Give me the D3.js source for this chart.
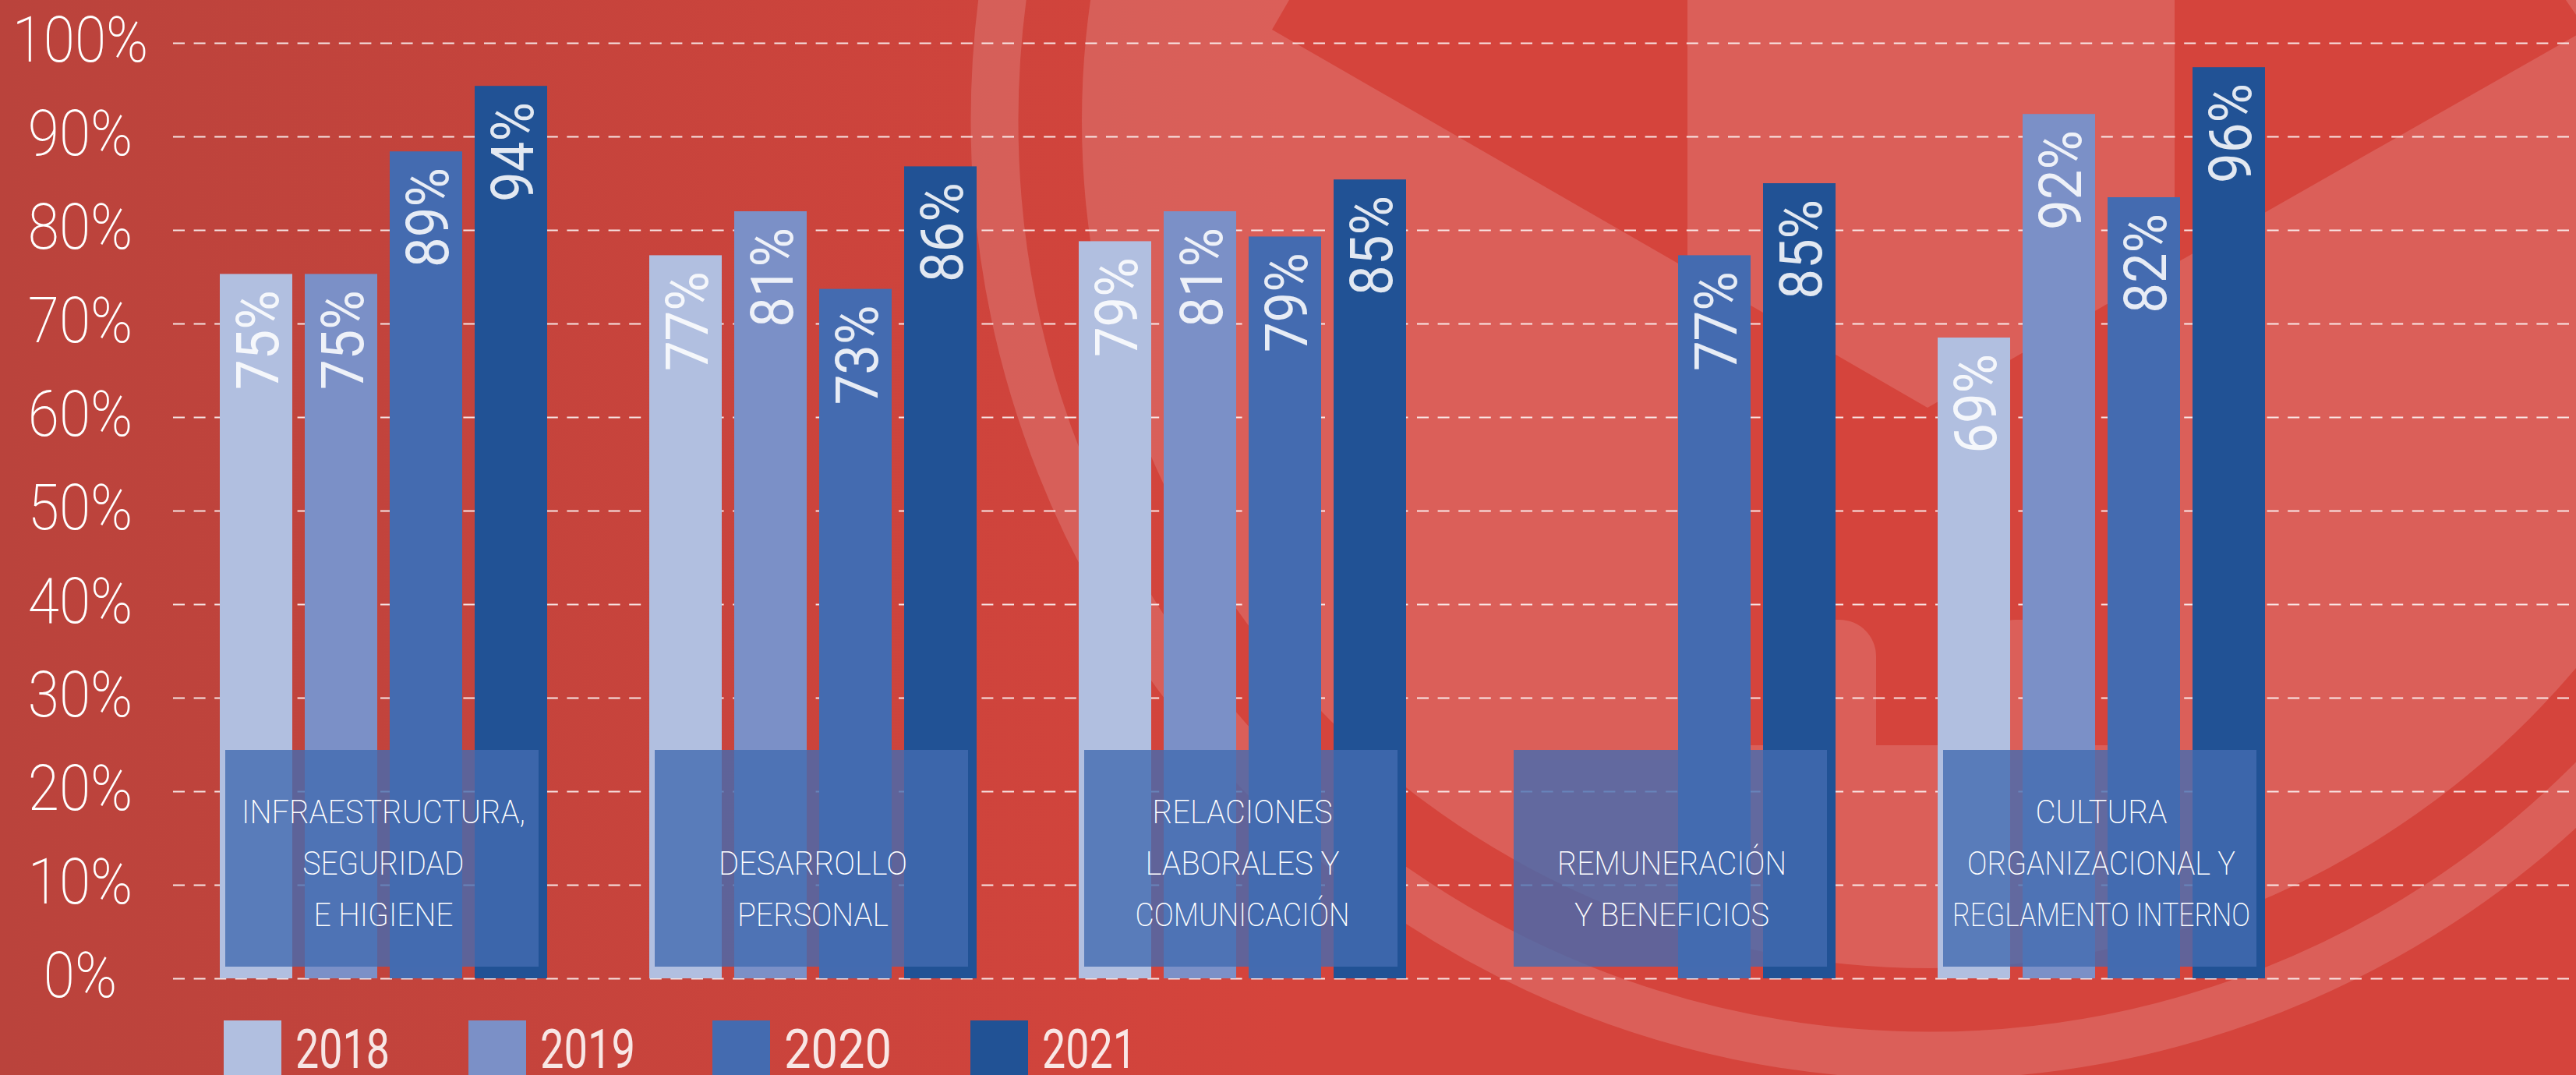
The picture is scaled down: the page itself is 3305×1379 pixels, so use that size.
<!DOCTYPE html>
<html>
<head>
<meta charset="utf-8">
<script src="https://d3js.org/d3.v7.min.js"></script>
<style>
  body { margin: 0; background: #d5443c; overflow: hidden; }
  svg { display: block; font-family: Roboto, sans-serif; }
</style>
</head>
<body>
<div id="chart"></div>
<script>
const width = 3305, height = 1379;

const years = ["2018", "2019", "2020", "2021"];
const categories = ["infra", "desarrollo", "relaciones", "remuneracion", "cultura"];
// bar heights as drawn in the picture (they sit a little off the printed labels)
const heights2018 = [75.3, 77.3, 78.8, null, 68.5];
const heights2019 = [75.3, 82, 82, null, 92.4];
const heights2020 = [88.4, 73.7, 79.3, 77.3, 83.5];
const heights2021 = [95.4, 86.8, 85.4, 85, 97.4];
const labels2018 = ["75%", "77%", "79%", null, "69%"];
const labels2019 = ["75%", "81%", "81%", null, "92%"];
const labels2020 = ["89%", "73%", "79%", "77%", "82%"];
const labels2021 = ["94%", "86%", "85%", "85%", "96%"];
const captions = [
  ["INFRAESTRUCTURA,", "SEGURIDAD", "E HIGIENE"],
  ["", "DESARROLLO", "PERSONAL"],
  ["RELACIONES", "LABORALES Y", "COMUNICACIÓN"],
  ["", "REMUNERACIÓN", "Y BENEFICIOS"],
  ["CULTURA", "ORGANIZACIONAL Y", "REGLAMENTO INTERNO"]
];
const yTicks = [0, 10, 20, 30, 40, 50, 60, 70, 80, 90, 100];
const barColors = ["#b1bfe0", "#7b90c7", "#446bb0", "#215295"];

// printed widths of the captions and legend labels, no installed font has these proportions
const captionWidths = [
  [364, 207, 179],
  [0, 242, 194],
  [231, 249, 275],
  [0, 294, 250],
  [169, 344, 382]
];
const legendWidths = [121, 122, 138, 121];

const heights = [heights2018, heights2019, heights2020, heights2021];
const labels = [labels2018, labels2019, labels2020, labels2021];

const svg = d3.select("#chart").append("svg")
  .attr("width", width)
  .attr("height", height)
  .attr("viewBox", [0, 0, width, height]);

// squeeze text horizontally, none of the installed fonts is condensed
function squeeze(sel, k) {
  sel.each(function() {
    const len = this.getComputedTextLength();
    if (len > 0) d3.select(this).attr("textLength", len * k).attr("lengthAdjust", "spacingAndGlyphs");
  });
}

// background
const grad = svg.append("defs").append("linearGradient")
  .attr("id", "bg")
  .attr("gradientUnits", "userSpaceOnUse")
  .attr("x1", 0).attr("x2", 1650).attr("y1", 0).attr("y2", 0);
grad.append("stop").attr("offset", 0).attr("stop-color", "#ba433c");
grad.append("stop").attr("offset", 1).attr("stop-color", "#d5443c");
svg.append("rect").attr("width", width).attr("height", height).attr("fill", "url(#bg)");

// watermark logo
const logo = svg.append("g");
const cx = 2475, cy = 155, light = "rgba(255,255,255,0.15)";
logo.append("circle").attr("cx", cx).attr("cy", cy).attr("r", 1087).attr("fill", light);
logo.append("circle").attr("cx", cx).attr("cy", cy).attr("r", 1199).attr("fill", "none")
  .attr("stroke", light).attr("stroke-width", 61);
logo.append("path").attr("fill", "#d5443c")
  .attr("d", "M1654,0L1632,38L2200,365V956H2740V367L3318,38L3292,0Z");
logo.append("path").attr("fill", light)
  .attr("d", "M2165,0H2790V340L2473,523L2165,345Z");
// the two rounded shapes under the chevron
logo.append("path").attr("fill", light)
  .attr("d", "M2300,956V842A47,47 0 0 1 2347,795H2360A47,47 0 0 1 2407,842V956Z");
logo.append("path").attr("fill", light)
  .attr("d", "M2539,956V842A47,47 0 0 1 2586,795H2599A47,47 0 0 1 2646,842V956Z");

// scales
const x0 = d3.scaleBand().domain(categories).range([282, 282 + 551 * 5]);
const x1 = d3.scaleBand().domain(years).range([0, 420]).paddingInner(16 / 109);
const y = d3.scaleLinear().domain([0, 100]).range([1255, 55]);
const legendX = d3.scaleOrdinal().domain(years).range([287, 601, 914, 1245]);

// y axis with the dashed grid
const yAxis = svg.append("g")
  .attr("transform", "translate(222,0)")
  .call(d3.axisLeft(y).tickValues(yTicks).tickFormat(d => d + "%").tickSize(-(width - 222)))
  .attr("font-family", null); // axis forces sans-serif otherwise
yAxis.select(".domain").remove();
yAxis.selectAll("line")
  .attr("stroke", "#fff")
  .attr("stroke-opacity", 0.85)
  .attr("stroke-width", 2)
  .attr("stroke-dasharray", "15 11.6");
yAxis.selectAll("text")
  .attr("x", -119)
  .attr("dy", null)
  .attr("y", 23)
  .attr("text-anchor", "middle")
  .attr("fill", "#fff")
  .style("font-size", "81px")
  .style("font-weight", 200)
  .call(squeeze, 0.9);

// bars
const groups = svg.append("g").selectAll("g")
  .data(categories)
  .join("g")
  .attr("transform", d => `translate(${x0(d)},0)`);

const rows = (d, i) => years.map((yr, j) => ({ yr, h: heights[j][i], label: labels[j][i], color: barColors[j] })).filter(r => r.h !== null);

groups.selectAll("rect")
  .data(rows)
  .join("rect")
  .attr("x", d => x1(d.yr))
  .attr("y", d => y(d.h))
  .attr("width", x1.bandwidth())
  .attr("height", d => y(0) - y(d.h))
  .attr("fill", d => d.color);

groups.selectAll("text")
  .data(rows)
  .join("text")
  .attr("transform", d => `translate(${x1(d.yr) + x1.bandwidth() / 2 + 28},${y(d.h) + 21}) rotate(-90)`)
  .attr("text-anchor", "end")
  .attr("fill", "#fff")
  .attr("fill-opacity", 0.87)
  .style("font-size", "76px")
  .text(d => d.label)
  .call(squeeze, 0.905);

// caption boxes over the bars
const boxes = svg.append("g").selectAll("g")
  .data(categories)
  .join("g")
  .attr("transform", d => `translate(${x0(d) + 7},962)`);

boxes.append("rect")
  .attr("width", 402)
  .attr("height", 278)
  .attr("fill", "#446bb0")
  .attr("opacity", 0.8);

boxes.selectAll("text")
  .data((d, i) => captions[i].map((line, j) => ({ line, w: captionWidths[i][j] })))
  .join("text")
  .attr("x", 203)
  .attr("y", (d, i) => 94 + i * 66)
  .attr("text-anchor", "middle")
  .attr("fill", "#fff")
  .attr("textLength", d => d.w || null)
  .attr("lengthAdjust", "spacingAndGlyphs")
  .style("font-size", "43px")
  .style("font-weight", 200)
  .text(d => d.line);

// legend
const legend = svg.append("g").selectAll("g")
  .data(years)
  .join("g")
  .attr("transform", d => `translate(${legendX(d)},1309)`);

legend.append("rect")
  .attr("width", 74)
  .attr("height", 70)
  .attr("fill", (d, i) => barColors[i]);

legend.append("text")
  .attr("x", 92)
  .attr("y", 61)
  .attr("fill", "#fff")
  .attr("fill-opacity", 0.87)
  .attr("textLength", (d, i) => legendWidths[i])
  .attr("lengthAdjust", "spacingAndGlyphs")
  .style("font-size", "70px")
  .text(d => d);
</script>
</body>
</html>
